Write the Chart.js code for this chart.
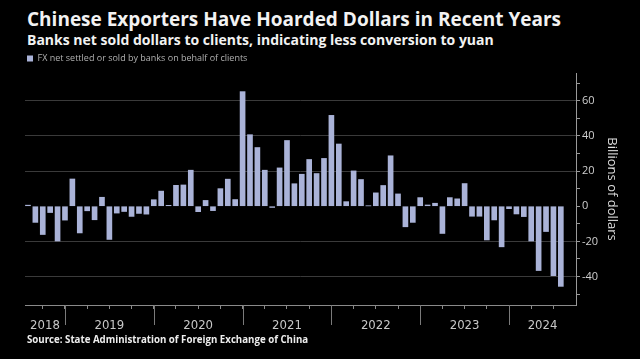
<!DOCTYPE html>
<html>
<head>
<meta charset="utf-8">
<script src="https://cdn.jsdelivr.net/npm/chart.js@4.4.1/dist/chart.umd.min.js"></script>
<style>
  body { margin: 0; background: #000; width: 640px; height: 359px; overflow: hidden; font-family: "Open Sans", sans-serif; }
  #title { position: absolute; left: 27px; top: 7px; color: #f2f2f2; font-weight: bold; font-size: 19px; line-height: 24px; white-space: nowrap; }
  #subtitle { position: absolute; left: 27px; top: 31px; color: #f2f2f2; font-weight: bold; font-size: 14px; line-height: 18px; white-space: nowrap; }
  #wrap { position: absolute; left: 0; top: 52px; width: 640px; height: 282px; }
  #source { position: absolute; left: 27px; top: 333px; color: #eee; font-weight: bold; font-size: 9.7px; line-height: 14px; white-space: nowrap; }
</style>
</head>
<body>
<div id="title">Chinese Exporters Have Hoarded Dollars in Recent Years</div>
<div id="subtitle">Banks net sold dollars to clients, indicating less conversion to yuan</div>
<div id="wrap"><canvas id="chart"></canvas></div>
<div id="source">Source: State Administration of Foreign Exchange of China</div>
<script>
// Monthly FX net settlement by banks on behalf of clients (billions of dollars)
const months = [
  '2018-08', '2018-09', '2018-10', '2018-11', '2018-12',
  '2019-01', '2019-02', '2019-03', '2019-04', '2019-05', '2019-06', '2019-07', '2019-08', '2019-09', '2019-10', '2019-11', '2019-12',
  '2020-01', '2020-02', '2020-03', '2020-04', '2020-05', '2020-06', '2020-07', '2020-08', '2020-09', '2020-10', '2020-11', '2020-12',
  '2021-01', '2021-02', '2021-03', '2021-04', '2021-05', '2021-06', '2021-07', '2021-08', '2021-09', '2021-10', '2021-11', '2021-12',
  '2022-01', '2022-02', '2022-03', '2022-04', '2022-05', '2022-06', '2022-07', '2022-08', '2022-09', '2022-10', '2022-11', '2022-12',
  '2023-01', '2023-02', '2023-03', '2023-04', '2023-05', '2023-06', '2023-07', '2023-08', '2023-09', '2023-10', '2023-11', '2023-12',
  '2024-01', '2024-02', '2024-03', '2024-04', '2024-05', '2024-06', '2024-07', '2024-08'
];

const fxNet = [
  0.6, -9.2, -16.1, -3.6, -19.8,
  -7.9, 15.5, -15.2, -2.6, -7.7, 5.1, -18.9, -3.9, -3.0, -5.8, -4.1, -4.5,
  3.7, 8.6, 0.5, 11.9, 12.1, 20.5, -3.1, 3.3, -2.5, 10.0, 15.4, 3.8,
  65.2, 40.7, 33.4, 20.5, -0.7, 21.8, 37.4, 12.8, 18.2, 26.6, 18.6, 27.2,
  51.7, 35.4, 2.6, 20.1, 15.2, 0.2, 7.6, 11.8, 28.7, 7.0, -11.7, -9.2,
  4.9, 0.7, 1.7, -15.5, 4.9, 4.2, 12.9, -5.7, -5.7, -19.2, -7.8, -23.1,
  -1.4, -4.4, -5.9, -19.8, -36.6, -14.4, -39.5, -45.6
];

const years = ['2018', '2019', '2020', '2021', '2022', '2023', '2024'];
const yTickValues = [-50, -40, -30, -20, -10, 0, 10, 20, 30, 40, 50, 60, 70];
const seriesLabel = 'FX net settled or sold by banks on behalf of clients';

// x axis runs on "months since Jan 2018"
const baseYear = 2018;
const xMin = 6.6, xMax = 81.05;
const monthIndex = (m) => {
  const [y, mo] = m.split('-').map(Number);
  return (y - baseYear) * 12 + (mo - 1);
};
const points = months.map((m, i) => ({ x: monthIndex(m), y: fxNet[i] }));

// year boundaries / label positions
const yearStarts = years.map(y => (Number(y) - baseYear) * 12);
const yearMids = years.map((y, i) => {
  const a = Math.max(xMin, yearStarts[i]);
  const b = Math.min(xMax, yearStarts[i] + 12);
  return (a + b) / 2;
});
const quarterTicks = [];
for (let v = 9; v <= 78; v += 3) quarterTicks.push(v);
const xTickValues = Array.from(new Set(quarterTicks.concat(yearMids))).sort((a, b) => a - b);

// long separators between years, below the axis
const yearSeparators = {
  id: 'yearSeparators',
  afterDraw(chart) {
    const { ctx, chartArea, scales } = chart;
    ctx.save();
    ctx.strokeStyle = '#7a7a7a';
    ctx.lineWidth = 1;
    yearStarts.forEach(v => {
      if (v <= xMin || v >= xMax) return;
      const x = Math.round(scales.x.getPixelForValue(v)) + 0.5;
      ctx.beginPath();
      ctx.moveTo(x, chartArea.bottom);
      ctx.lineTo(x, chartArea.bottom + 20);
      ctx.stroke();
    });
    ctx.restore();
  }
};

const ctx = document.getElementById('chart').getContext('2d');
new Chart(ctx, {
  type: 'bar',
  data: {
    datasets: [{
      label: seriesLabel,
      data: points,
      backgroundColor: '#aab3d8',
      borderWidth: 0,
      barThickness: 5
    }]
  },
  options: {
    responsive: true,
    maintainAspectRatio: false,
    animation: false,
    layout: { autoPadding: false, padding: { left: 25, right: 16, top: 0, bottom: 0 } },
    plugins: {
      legend: {
        display: true,
        align: 'start',
        labels: {
          boxWidth: 6,
          boxHeight: 6,
          padding: 2,
          color: '#b0b0b0',
          font: { family: 'Open Sans', size: 9 }
        }
      },
      tooltip: { enabled: false }
    },
    scales: {
      x: {
        type: 'linear',
        min: xMin,
        max: xMax,
        bounds: 'data',
        offset: false,
        afterBuildTicks: (s) => { s.ticks = xTickValues.map(v => ({ value: v })); },
        afterFit: (s) => { s.height = 29; },
        grid: {
          offset: false,
          drawOnChartArea: false,
          tickLength: 4,
          tickColor: (c) => quarterTicks.includes(c.tick && c.tick.value) ? '#8a8a8a' : 'rgba(0,0,0,0)'
        },
        border: { display: true, color: '#8a8a8a' },
        ticks: {
          autoSkip: false,
          maxRotation: 0,
          padding: 9,
          color: '#c8c8c8',
          font: { family: '"Liberation Sans Narrow", "DejaVu Sans Condensed", sans-serif', size: 13 },
          callback: (v) => {
            const i = yearMids.indexOf(v);
            return i >= 0 ? years[i] : '';
          }
        }
      },
      y: {
        position: 'right',
        min: -56.2,
        max: 75.8,
        bounds: 'data',
        afterBuildTicks: (s) => { s.ticks = yTickValues.map(v => ({ value: v })); },
        afterFit: (s) => { s.width = 48; },
        grid: {
          color: (c) => (c.tick && c.tick.value % 20 === 0 && c.tick.value !== 0) ? '#3a3a3a' : 'rgba(0,0,0,0)',
          tickColor: '#9a9a9a',
          tickLength: 4
        },
        border: { display: true, color: '#9a9a9a' },
        ticks: {
          padding: 2,
          color: '#cfcfcf',
          font: { family: 'Open Sans', size: 11 },
          callback: (v) => (v % 20 === 0 ? String(v) : '')
        },
        title: {
          display: true,
          text: 'Billions of dollars',
          color: '#dcdcdc',
          font: { family: 'Open Sans', size: 13 },
          padding: { top: 4, bottom: 4 }
        }
      }
    }
  },
  plugins: [yearSeparators]
});
</script>
</body>
</html>
